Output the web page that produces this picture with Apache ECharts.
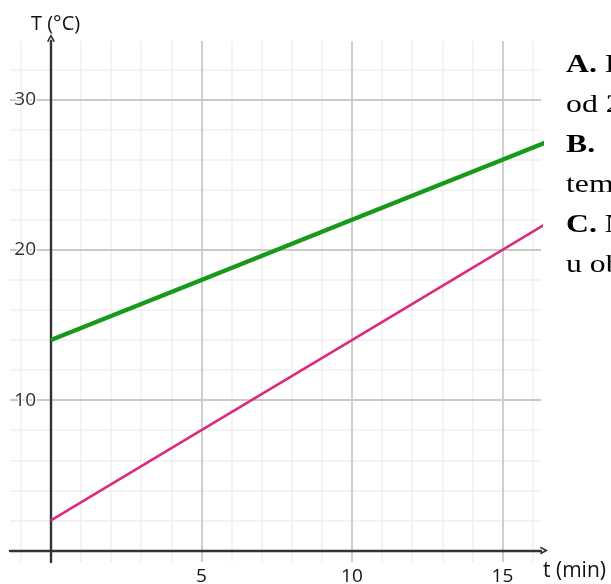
<!DOCTYPE html>
<html>
<head>
<meta charset="utf-8">
<script src="https://cdn.jsdelivr.net/npm/echarts@6/dist/echarts.min.js"></script>
<style>html,body{margin:0;padding:0;background:#fff}#c{width:611px;height:584px}</style>
</head>
<body>
<div id="c"></div>
<script>
// Data
const timeMin = [0, 5, 10, 15, 17];
const greenT = [14, 18, 22, 26, 27.6];
const pinkT = [2, 8, 14, 20, 22.4];
const xTickLabels = [5, 10, 15];
const yTickLabels = [10, 20, 30];
const xMinorGrid = [-1, 1, 2, 3, 4, 6, 7, 8, 9, 11, 12, 13, 14, 16];
const xMajorGrid = [5, 10, 15];
const yMinorGrid = [2, 4, 6, 8, 12, 14, 16, 18, 22, 24, 26, 28, 32];
const yMajorGrid = [10, 20, 30];
const sideLines = [
  ['A.', ' I'],
  ['', 'od 2'],
  ['B.', ''],
  ['', 'tem'],
  ['C.', ' N'],
  ['', 'u ob']
];

const chart = echarts.init(document.getElementById('c'), null, {renderer: 'canvas'});
const pairs = (xs, ys) => xs.map((x, i) => [x, ys[i]]);

const gridLines = [];
xMinorGrid.forEach(v => gridLines.push({xAxis: v, lineStyle: {color: '#efefef', width: 1.5, type: 'solid'}}));
yMinorGrid.forEach(v => gridLines.push({yAxis: v, lineStyle: {color: '#efefef', width: 1.5, type: 'solid'}}));
xMajorGrid.forEach(v => gridLines.push({xAxis: v, lineStyle: {color: '#cacaca', width: 1.8, type: 'solid'}}));
yMajorGrid.forEach(v => gridLines.push({yAxis: v, lineStyle: {color: '#cacaca', width: 1.8, type: 'solid'}}));

const chevron = 'path://M0,9 L5,0 L10,9 L8,10 L5,4.2 L2,10 Z';

const graphics = [
  {type: 'text', left: 31, top: 14, z: 20, style: {text: 'T (°C)', fontSize: 20, fontFamily: 'Open Sans', fill: '#111'}},
  {type: 'text', left: 543, top: 561, z: 20, style: {text: 't (min)', fontSize: 21, fontFamily: 'Open Sans', fill: '#111'}}
];
sideLines.forEach((l, i) => {
  graphics.push({
    type: 'text', x: 566, y: 53 + i * 40, z: 20, scaleX: 1.27, originX: 0, originY: 0,
    style: {
      text: (l[0] ? '{b|' + l[0] + '}' : '') + (l[1] ? '{r|' + l[1] + '}' : ''),
      rich: {
        b: {fontSize: 25, fontWeight: 'bold', fontFamily: 'Liberation Serif', color: '#000'},
        r: {fontSize: 25, fontFamily: 'Liberation Serif', color: '#000'}
      }
    }
  });
});

chart.setOption({
  animation: false,
  backgroundColor: '#fff',
  grid: {left: 10, top: 41, width: 531, height: 521, containLabel: false, outerBoundsMode: 'none'},
  xAxis: {
    type: 'value', min: -1.36, max: 16.28, z: 8,
    splitLine: {show: false},
    axisTick: {show: false},
    axisLine: {onZero: true, lineStyle: {color: '#333', width: 2.4}, symbol: ['none', chevron], symbolSize: [12, 8], symbolOffset: [0, 3]},
    axisLabel: {customValues: xTickLabels, margin: 5, fontSize: 19, color: '#111', fontFamily: 'Open Sans'}
  },
  yAxis: {
    type: 'value', min: -0.77, max: 33.9, z: 8,
    splitLine: {show: false},
    axisTick: {show: false},
    axisLine: {onZero: true, lineStyle: {color: '#333', width: 2.4}, symbol: ['none', chevron], symbolSize: [12, 8], symbolOffset: [0, 3]},
    axisLabel: {customValues: yTickLabels, inside: true, align: 'right', margin: 26, fontSize: 19, color: '#333', fontFamily: 'Open Sans', textBorderColor: '#fff', textBorderWidth: 3}
  },
  graphic: graphics,
  series: [
    {
      type: 'line', z: 0, silent: true, data: pairs(timeMin, greenT), symbol: 'none',
      lineStyle: {opacity: 0},
      markLine: {silent: true, symbol: ['none', 'none'], label: {show: false}, data: gridLines, animation: false}
    },
    {type: 'line', z: 10, data: pairs(timeMin, pinkT), symbol: 'none', clip: true,
      lineStyle: {color: '#dc2a7c', width: 2.6}},
    {type: 'line', z: 11, data: pairs(timeMin, greenT), symbol: 'none', clip: true,
      lineStyle: {color: '#17991a', width: 4.4}}
  ]
});
</script>
</body>
</html>
